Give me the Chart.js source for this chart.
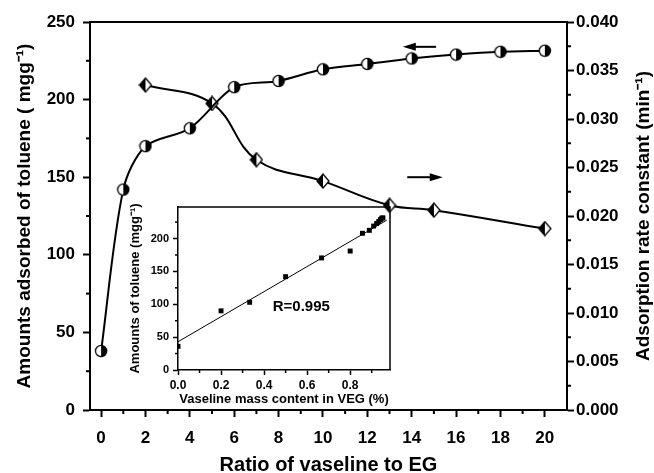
<!DOCTYPE html>
<html>
<head>
<meta charset="utf-8">
<script src="https://cdn.jsdelivr.net/npm/chart.js@4.4.0/dist/chart.umd.min.js"></script>
<style>
body{margin:0;background:#fff;}
#wrap{position:relative;width:654px;height:473px;}
#main{position:absolute;left:0;top:0;}
#inset{position:absolute;left:125px;top:195px;}
</style>
</head>
<body>
<div id="wrap">
<canvas id="main" width="654" height="473"></canvas>
<canvas id="inset" width="275" height="215"></canvas>
</div>
<script>
// main plot data
const ratio = [0, 1, 2, 4, 6, 8, 10, 12, 14, 16, 18, 20];
const adsorbed = [38, 142, 170, 181.5, 208, 212, 219.5, 223, 226.5, 229, 230.8, 231.5];
const rateRatio = [2, 5, 7, 10, 13, 15, 20];
const rateConst = [0.0335, 0.0316, 0.0258, 0.0236, 0.0211, 0.0206, 0.0187];

// inset data
const vaselineContent = [0, 0.2, 0.333, 0.5, 0.667, 0.8, 0.857, 0.889, 0.909, 0.923, 0.933, 0.941, 0.947, 0.952];
const insetAmount = [36, 90, 103, 142, 170.5, 181, 208, 212.5, 219, 223, 226, 229, 231, 231.5];
const fitX = [0, 0.97];
const fitY = [43, 228];

// ticks
const xTicks = [0, 2, 4, 6, 8, 10, 12, 14, 16, 18, 20];
const xMinor = [1, 3, 5, 7, 9, 11, 13, 15, 17, 19];
const leftTicks = [0, 50, 100, 150, 200, 250];
const leftMinor = [25, 75, 125, 175, 225];
const rightTicks = [0, 0.005, 0.01, 0.015, 0.02, 0.025, 0.03, 0.035, 0.04];
const rightMinor = [0.0025, 0.0075, 0.0125, 0.0175, 0.0225, 0.0275, 0.0325, 0.0375];
const insetXTicks = [0, 0.2, 0.4, 0.6, 0.8];
const insetXMinor = [0.1, 0.3, 0.5, 0.7, 0.9];
const insetYTicks = [0, 50, 100, 150, 200];
const insetYMinor = [25, 75, 125, 175, 225];

const FONT = "'Liberation Sans', Arial, sans-serif";

function halfCircle() {
  const c = document.createElement('canvas');
  c.width = 14; c.height = 14;
  const g = c.getContext('2d');
  g.fillStyle = '#fff';
  g.beginPath(); g.arc(7, 7, 5.6, 0, Math.PI * 2); g.fill();
  g.fillStyle = '#000';
  g.beginPath(); g.arc(7, 7, 5.6, -Math.PI / 2, Math.PI / 2); g.closePath(); g.fill();
  g.strokeStyle = '#000'; g.lineWidth = 1.3;
  g.beginPath(); g.arc(7, 7, 5.6, 0, Math.PI * 2); g.stroke();
  return c;
}
function halfDiamond() {
  const c = document.createElement('canvas');
  c.width = 14; c.height = 16;
  const g = c.getContext('2d');
  g.fillStyle = '#fff';
  g.beginPath(); g.moveTo(7, 1); g.lineTo(13, 8); g.lineTo(7, 15); g.lineTo(1, 8); g.closePath(); g.fill();
  g.fillStyle = '#000';
  g.beginPath(); g.moveTo(7, 1); g.lineTo(7, 15); g.lineTo(1, 8); g.closePath(); g.fill();
  g.strokeStyle = '#000'; g.lineWidth = 1.3;
  g.beginPath(); g.moveTo(7, 1); g.lineTo(13, 8); g.lineTo(7, 15); g.lineTo(1, 8); g.closePath(); g.stroke();
  return c;
}

// frame, minor ticks, arrows, labels
const decor = {
  id: 'decor',
  afterDraw(chart, args, o) {
    const ctx = chart.ctx, a = chart.chartArea;
    ctx.save();
    ctx.strokeStyle = '#000';
    ctx.fillStyle = '#000';
    ctx.lineWidth = o.lw;
    ctx.beginPath();
    ctx.moveTo(a.left, a.top); ctx.lineTo(a.right, a.top);
    if (o.rightEdge) { ctx.lineTo(a.right, a.bottom); }
    ctx.stroke();
    for (const m of o.minor) {
      const s = chart.scales[m.id];
      for (const v of m.values) {
        const p = s.getPixelForValue(v);
        ctx.beginPath();
        if (s.isHorizontal()) { ctx.moveTo(p, s.top); ctx.lineTo(p, s.top + m.len); }
        else if (s.position === 'left') { ctx.moveTo(s.right, p); ctx.lineTo(s.right - m.len, p); }
        else { ctx.moveTo(s.left, p); ctx.lineTo(s.left + m.len, p); }
        ctx.stroke();
      }
    }
    for (const ar of (o.arrows || [])) {
      const xs = chart.scales.x, ys = chart.scales.y;
      const x1 = xs.getPixelForValue(ar.from), x2 = xs.getPixelForValue(ar.to), y = ys.getPixelForValue(ar.y);
      const dir = Math.sign(x2 - x1);
      ctx.lineWidth = 2;
      ctx.beginPath(); ctx.moveTo(x1, y); ctx.lineTo(x2 - dir * 10, y); ctx.stroke();
      ctx.beginPath(); ctx.moveTo(x2, y); ctx.lineTo(x2 - dir * 13, y - 4); ctx.lineTo(x2 - dir * 13, y + 4); ctx.closePath(); ctx.fill();
    }
    if (o.text) {
      const t = o.text;
      ctx.font = t.font;
      ctx.textBaseline = 'middle';
      ctx.fillText(t.str, chart.scales.x.getPixelForValue(t.x), chart.scales.y.getPixelForValue(t.y));
    }
    if (o.sideTitle) {
      // right-axis title reads bottom to top, like the left one
      const st = o.sideTitle;
      ctx.font = st.font;
      ctx.textAlign = 'center';
      ctx.textBaseline = 'middle';
      ctx.translate(st.x, (a.top + a.bottom) / 2);
      ctx.rotate(-Math.PI / 2);
      ctx.fillText(st.str, 0, 0);
    }
    ctx.restore();
  }
};

function fixed(list) { return s => { s.ticks = list.map(v => ({ value: v })); }; }

new Chart(document.getElementById('main'), {
  type: 'scatter',
  data: {
    datasets: [{
      data: ratio.map((r, i) => ({ x: r, y: adsorbed[i] })),
      yAxisID: 'y',
      showLine: true,
      borderColor: '#000',
      borderWidth: 2,
      tension: 0.3,
      pointStyle: halfCircle()
    }, {
      data: rateRatio.map((r, i) => ({ x: r, y: rateConst[i] })),
      yAxisID: 'y2',
      showLine: true,
      borderColor: '#000',
      borderWidth: 2,
      tension: 0.4,
      pointStyle: halfDiamond()
    }]
  },
  options: {
    responsive: false,
    animation: false,
    events: [],
    devicePixelRatio: 1,
    layout: { padding: { top: 22, left: 0, right: 0, bottom: 0 } },
    plugins: {
      legend: { display: false },
      tooltip: { enabled: false },
      decor: {
        lw: 2,
        minor: [
          { id: 'x', values: xMinor, len: 4 },
          { id: 'y', values: leftMinor, len: 4 },
          { id: 'y2', values: rightMinor, len: 4 }
        ],
        arrows: [
          { from: 15.1, to: 13.6, y: 234 },
          { from: 13.8, to: 15.4, y: 150 }
        ],
        sideTitle: { str: 'Adsorption rate constant (min\u207B\u00B9)', x: 644, font: "bold 19px 'Liberation Sans', Arial, sans-serif" }
      }
    },
    scales: {
      x: {
        type: 'linear', min: -0.5, max: 21,
        afterBuildTicks: fixed(xTicks),
        afterFit: s => { s.height = 63; },
        border: { color: '#000', width: 2 },
        grid: { drawOnChartArea: false, tickLength: 7, tickWidth: 2, tickColor: '#000' },
        ticks: { color: '#000', padding: 11, maxRotation: 0, font: { family: FONT, size: 17, weight: 'bold' } },
        title: { display: true, text: 'Ratio of vaseline to EG', color: '#000', padding: { top: 0, bottom: -2 },
          font: { family: FONT, size: 20, weight: 'bold', lineHeight: 1 } }
      },
      y: {
        position: 'left', min: 0, max: 250,
        afterBuildTicks: fixed(leftTicks),
        afterFit: s => { s.width = 90; },
        border: { color: '#000', width: 2 },
        grid: { drawOnChartArea: false, tickLength: 7, tickWidth: 2, tickColor: '#000' },
        ticks: { color: '#000', padding: 8, font: { family: FONT, size: 17, weight: 'bold' } },
        title: { display: true, text: 'Amounts adsorbed of toluene ( mgg\u207B\u00B9)', color: '#000', padding: { top: 15, bottom: 0 },
          font: { family: FONT, size: 19, weight: 'bold', lineHeight: 1 } }
      },
      y2: {
        position: 'right', min: 0, max: 0.04,
        afterBuildTicks: fixed(rightTicks),
        afterFit: s => { s.width = 87; },
        border: { color: '#000', width: 2 },
        grid: { drawOnChartArea: false, tickLength: 7, tickWidth: 2, tickColor: '#000' },
        ticks: { color: '#000', padding: 2, callback: v => v.toFixed(3), font: { family: FONT, size: 17, weight: 'bold' } },
        title: { display: false }
      }
    }
  },
  plugins: [decor]
});

new Chart(document.getElementById('inset'), {
  type: 'scatter',
  data: {
    datasets: [{
      data: vaselineContent.map((v, i) => ({ x: v, y: insetAmount[i] })),
      pointStyle: 'rect',
      pointRadius: 3.5,
      backgroundColor: '#000',
      borderColor: '#000',
      borderWidth: 0
    }, {
      data: fitX.map((v, i) => ({ x: v, y: fitY[i] })),
      showLine: true,
      borderColor: '#000',
      borderWidth: 1,
      pointRadius: 0
    }]
  },
  options: {
    responsive: false,
    animation: false,
    events: [],
    devicePixelRatio: 1,
    layout: { padding: { top: 12, left: 0, right: 10, bottom: 0 } },
    plugins: {
      legend: { display: false },
      tooltip: { enabled: false },
      decor: {
        lw: 1.5,
        rightEdge: true,
        minor: [
          { id: 'x', values: insetXMinor, len: 3 },
          { id: 'y', values: insetYMinor, len: 3 }
        ],
        text: { str: 'R=0.995', x: 0.44, y: 96, font: "bold 15px 'Liberation Sans', Arial, sans-serif" }
      }
    },
    scales: {
      x: {
        type: 'linear', min: 0, max: 0.985,
        afterBuildTicks: fixed(insetXTicks),
        afterFit: s => { s.height = 40; },
        border: { color: '#000', width: 1.5 },
        grid: { drawOnChartArea: false, tickLength: 5, tickWidth: 1.5, tickColor: '#000' },
        ticks: { color: '#000', padding: 3, maxRotation: 0, callback: v => v.toFixed(1), font: { family: FONT, size: 12, weight: 'bold' } },
        title: { display: true, text: 'Vaseline mass content in VEG (%)', color: '#000', padding: { top: 0, bottom: 4 },
          font: { family: FONT, size: 13, weight: 'bold', lineHeight: 1 } }
      },
      y: {
        position: 'left', min: 0, max: 248,
        afterBuildTicks: fixed(insetYTicks),
        afterFit: s => { s.width = 53; },
        border: { color: '#000', width: 1.5 },
        grid: { drawOnChartArea: false, tickLength: 5, tickWidth: 1.5, tickColor: '#000' },
        ticks: { color: '#000', padding: 4, font: { family: FONT, size: 11, weight: 'bold' } },
        title: { display: true, text: 'Amounts of toluene (mgg\u207B\u00B9)', color: '#000', padding: { top: 4, bottom: 0 },
          font: { family: FONT, size: 13, weight: 'bold', lineHeight: 1 } }
      }
    }
  },
  plugins: [decor]
});
</script>
</body>
</html>
